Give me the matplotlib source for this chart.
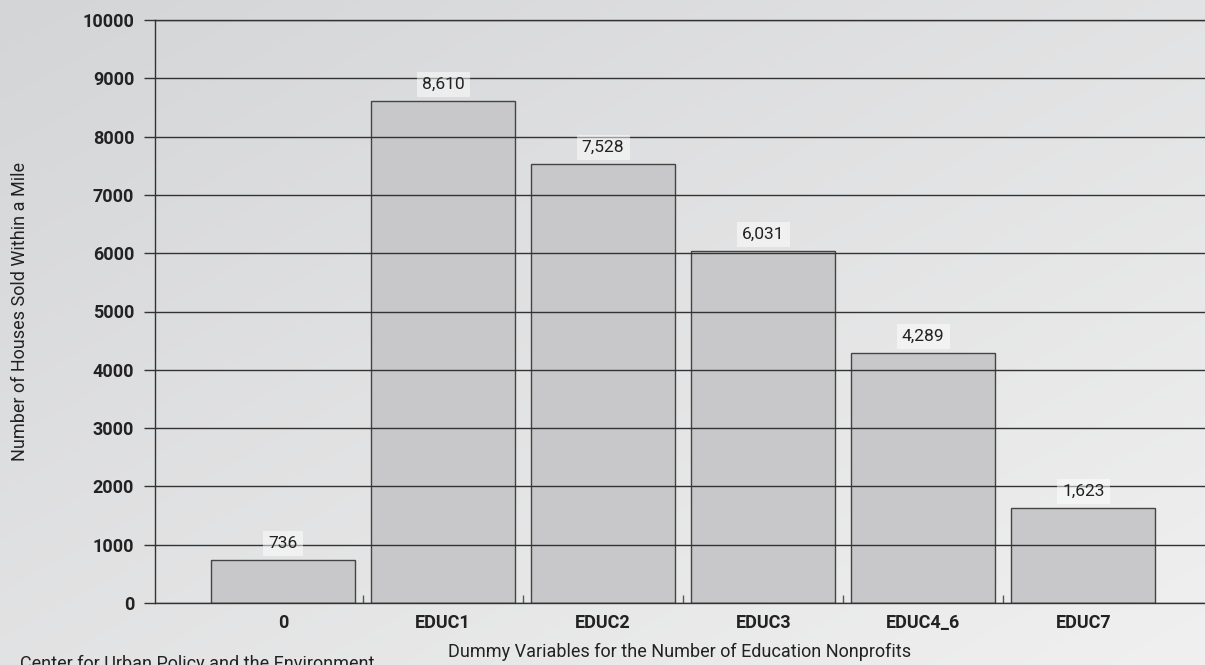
import numpy as np
import matplotlib.pyplot as plt
from matplotlib.colors import LinearSegmentedColormap
from matplotlib.ticker import FixedLocator

# Houses sold within a mile, by education nonprofit dummy
categories = ["0", "EDUC1", "EDUC2", "EDUC3", "EDUC4_6", "EDUC7"]
houses_sold = [736, 8610, 7528, 6031, 4289, 1623]
y_ticks = [0, 1000, 2000, 3000, 4000, 5000, 6000, 7000, 8000, 9000, 10000]

plt.rcParams["font.family"] = ["Roboto", "DejaVu Sans"]
ink = "#222222"

fig = plt.figure(figsize=(12.05, 6.65), dpi=100)

# soft diagonal gradient behind everything
bg = fig.add_axes([0, 0, 1, 1], zorder=-10)
gx, gy = np.meshgrid(np.linspace(0, 1, 300), np.linspace(0, 1, 300))
grad = (gx + gy) / 2
bg_cmap = LinearSegmentedColormap.from_list("bg", ["#d4d5d7", "#f0f0f0"])
bg.imshow(grad, cmap=bg_cmap, vmin=0, vmax=1, aspect="auto", extent=[0, 1, 0, 1])
bg.axis("off")

ax = fig.add_axes([155 / 1205, 62 / 665, 1050 / 1205, 583 / 665])
ax.patch.set_alpha(0)

x = np.arange(len(categories))
ax.bar(x, houses_sold, width=0.9, color="#c8c8ca", edgecolor="#444444", linewidth=1.0, zorder=1)

ax.set_xlim(-0.8, 5.76)
ax.set_ylim(0, 10000)
ax.set_yticks(y_ticks)
ax.set_yticklabels([str(v) for v in y_ticks], fontweight="bold", fontsize=13, color=ink)
ax.grid(axis="y", color="#333333", linewidth=1.0, zorder=2)
ax.tick_params(axis="y", length=8, width=1, color="#333333", pad=7)

ax.set_xticks(x)
ax.set_xticklabels(categories, fontweight="bold", fontsize=13, color=ink)
ax.tick_params(axis="x", which="major", length=0, pad=8)
ax.xaxis.set_minor_locator(FixedLocator(x[:-1] + 0.5))
ax.tick_params(axis="x", which="minor", direction="in", length=6, width=1, color="#555555")

ax.spines["right"].set_visible(False)
for side in ["left", "top", "bottom"]:
    ax.spines[side].set_color("#333333")
    ax.spines[side].set_linewidth(1.0)

for xi, v in zip(x, houses_sold):
    ax.annotate(f"{v:,}", (xi, v), xytext=(0, 12), textcoords="offset points",
                ha="center", va="center", fontsize=12.5, color=ink, zorder=4,
                bbox=dict(boxstyle="square,pad=0.3", facecolor="white", alpha=0.5, edgecolor="none"))

ax.set_ylabel("Number of Houses Sold Within a Mile", fontsize=13, color=ink)
ax.yaxis.set_label_coords(-126 / 1050, 0.5)
ax.set_xlabel("Dummy Variables for the Number of Education Nonprofits", fontsize=13, color=ink)
ax.xaxis.set_label_coords(0.5, -40 / 583)

fig.text(20 / 1205, -8 / 665, "Center for Urban Policy and the Environment", fontsize=13,
         color=ink, ha="left", va="bottom")

fig.savefig("out.png", dpi=100)
